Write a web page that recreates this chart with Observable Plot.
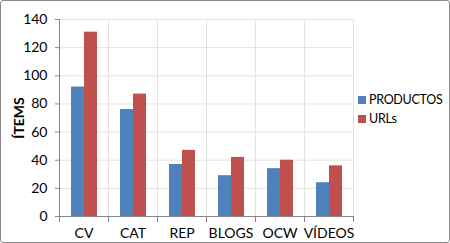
<!DOCTYPE html>
<html><head><meta charset="utf-8">
<script src="https://cdn.jsdelivr.net/npm/d3@7"></script>
<script src="https://cdn.jsdelivr.net/npm/@observablehq/plot@0.6"></script>
<style>
body{margin:0;background:#fff;}
#wrap{position:relative;width:450px;height:243px;font-family:Lato,"Open Sans",sans-serif;}
#frame{position:absolute;left:0;top:0;width:450px;height:243px;box-sizing:border-box;border:1px solid #8a8a8a;border-radius:3px;pointer-events:none;}
#chart svg{position:absolute;left:0;top:0;}
#legend{position:absolute;left:358px;top:90px;width:90px;white-space:nowrap;font-size:12.5px;letter-spacing:-0.3px;line-height:19px;color:#000;}
#legend .sw{display:inline-block;width:8px;height:8px;margin-right:3px;}
g[aria-label="y-axis label"] text{font-weight:bold;font-size:14px;}
</style></head>
<body><div id="wrap"><div id="chart"></div><div id="legend"></div><div id="frame"></div></div>
<script>
const categories = ["CV","CAT","REP","BLOGS","OCW","VÍDEOS"];
const series = ["PRODUCTOS","URLs"];
const productos = [92,76,37,29,34,24];
const urls = [131,87,47,42,40,36];
const colors = ["#4F81BD","#C0504D"];
const yTicks = [0,20,40,60,80,100,120,140];

const data = [];
categories.forEach((c,i)=>{
  data.push({cat:c, series:"PRODUCTOS", value:productos[i]});
  data.push({cat:c, series:"URLs", value:urls[i]});
});

const H = 243, mt = 19, mb = 27;
const plotH = H - mt - mb;

const chart = Plot.plot({
  width:450, height:H,
  marginLeft:58, marginRight:97, marginTop:mt, marginBottom:mb,
  style:{fontFamily:"Lato, 'Open Sans', sans-serif", fontSize:"14px", color:"#000", background:"transparent", overflow:"visible"},
  fx:{domain:categories, padding:0, label:null, axis:null},
  x:{domain:series, paddingInner:0, paddingOuter:0.757, axis:null},
  y:{domain:[0,140]},
  color:{domain:series, range:colors},
  marks:[
    Plot.ruleY(yTicks.filter(d=>d>0), {stroke:"#e3e3e3", strokeWidth:1}),
    Plot.frame({anchor:"left", stroke:"#e3e3e3"}),
    Plot.frame({anchor:"right", stroke:"#e3e3e3"}),
    Plot.barY(data, {fx:"cat", x:"series", y:"value", fill:"series"}),
    Plot.ruleY([0], {stroke:"#868686"}),
    Plot.frame({anchor:"left", stroke:"#868686", facetAnchor:"left"}),
    Plot.frame({anchor:"left", stroke:"#868686", insetTop:plotH, insetBottom:-5}),
    Plot.frame({anchor:"right", stroke:"#868686", insetTop:plotH, insetBottom:-5, facetAnchor:"right"}),
    Plot.axisY({ticks:yTicks, tickSize:4, tickPadding:8, stroke:"#868686", label:"ÍTEMS", labelAnchor:"center", labelArrow:"none", labelOffset:45, tickFormat:d=>d}),
    Plot.axisFx({anchor:"bottom", tickSize:0, tickPadding:12, label:null})
  ]
});
document.getElementById("chart").appendChild(chart);

const lg = document.getElementById("legend");
series.forEach((s,i)=>{
  const row = document.createElement("div");
  row.innerHTML = `<span class="sw" style="background:${colors[i]}"></span>${s}`;
  lg.appendChild(row);
});
</script></body></html>
